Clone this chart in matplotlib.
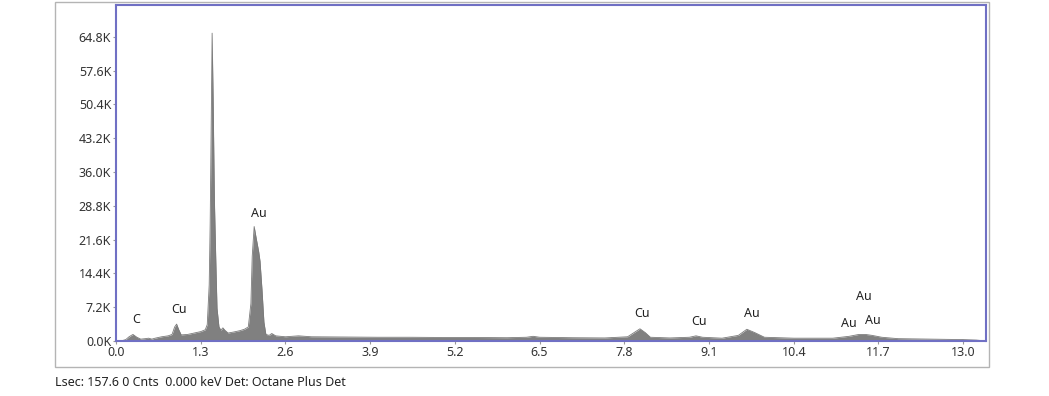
import matplotlib
matplotlib.use("Agg")
import matplotlib.pyplot as plt
from matplotlib.patches import Rectangle
from matplotlib.ticker import FuncFormatter

# ---- data (energy in keV, counts in K) ----
energy_kev = [0.00, 0.10, 0.15, 0.20, 0.26, 0.32, 0.38, 0.45, 0.50, 0.55, 0.60,
              0.70, 0.80, 0.86, 0.90, 0.93, 0.96, 1.00, 1.10, 1.20, 1.30, 1.37,
              1.40, 1.43, 1.445, 1.46, 1.475, 1.49, 1.51, 1.53, 1.55, 1.58,
              1.61, 1.64, 1.67, 1.72, 1.80, 1.90, 1.97, 2.03, 2.07, 2.09, 2.12,
              2.15, 2.19, 2.21, 2.24, 2.27, 2.30, 2.35, 2.39, 2.45, 2.60, 2.80,
              3.00, 3.50, 4.00, 4.50, 5.00, 5.50, 6.00, 6.30, 6.40, 6.50, 7.00,
              7.50, 7.85, 7.95, 8.04, 8.12, 8.20, 8.50, 8.80, 8.90, 9.00, 9.30,
              9.55, 9.68, 9.80, 9.95, 10.40, 11.00, 11.25, 11.40, 11.50, 11.60,
              11.75, 12.00, 12.50, 13.00, 13.20, 13.35]
counts_k = [0.0, 0.1, 0.3, 0.9, 1.4, 0.8, 0.4, 0.5, 0.6, 0.4, 0.6,
            0.9, 1.1, 1.4, 3.0, 3.6, 2.5, 1.3, 1.4, 1.7, 2.0, 2.4,
            3.5, 12.0, 25.0, 45.0, 65.6, 52.0, 30.0, 18.0, 7.0, 3.0,
            2.3, 2.8, 2.3, 1.7, 1.9, 2.2, 2.5, 3.0, 8.0, 18.0, 24.4,
            22.0, 19.0, 17.0, 11.0, 4.0, 1.4, 1.2, 1.6, 1.1, 0.9, 1.1,
            0.9, 0.85, 0.8, 0.8, 0.75, 0.75, 0.7, 0.8, 1.0, 0.8, 0.7,
            0.65, 0.9, 1.8, 2.6, 1.8, 0.8, 0.65, 0.8, 1.1, 0.8, 0.6,
            1.2, 2.5, 1.8, 0.8, 0.6, 0.6, 1.0, 1.4, 1.4, 1.2,
            0.8, 0.5, 0.4, 0.3, 0.2, 0.0]

x_ticks = [0.0, 1.3, 2.6, 3.9, 5.2, 6.5, 7.8, 9.1, 10.4, 11.7, 13.0]
y_ticks_k = [0.0, 7.2, 14.4, 21.6, 28.8, 36.0, 43.2, 50.4, 57.6, 64.8]

peak_labels = ["C", "Cu", "Au", "Cu", "Cu", "Au", "Au", "Au", "Au"]
label_energy = [0.31, 0.97, 2.19, 8.07, 8.95, 9.75, 11.48, 11.24, 11.62]
label_height_k = [4.5, 6.8, 27.1, 5.8, 4.1, 5.8, 9.4, 3.8, 4.3]

footer_text = "Lsec: 157.6 0 Cnts  0.000 keV Det: Octane Plus Det"

# ---- figure ----
plt.rcParams['font.family'] = ['Noto Sans', 'DejaVu Sans']
W, H = 1049, 396
fig = plt.figure(figsize=(W / 100, H / 100), dpi=100)

# outer grey frame
fig.patches.append(Rectangle((55 / W, 1 - 367 / H), (989 - 55) / W, (367 - 2) / H,
                             transform=fig.transFigure, fill=False,
                             edgecolor='#b4b4b4', linewidth=1.0))

ax = fig.add_axes([116 / W, 1 - 341 / H, (986 - 116) / W, (341 - 5) / H])
ax.fill_between(energy_kev, counts_k, 0, color='#808080', linewidth=0)
ax.plot(energy_kev, counts_k, color='#7a7a7a', linewidth=0.6)

ax.set_xlim(0, 13.35)
ax.set_ylim(0, 71.6)
ax.set_xticks(x_ticks)
ax.set_xticklabels([f"{v:.1f}" for v in x_ticks])
ax.set_yticks(y_ticks_k)
ax.yaxis.set_major_formatter(FuncFormatter(lambda v, p: f"{v:.1f}K"))
ax.tick_params(axis='both', labelsize=9, colors='#333333', length=2.5,
               width=0.8, pad=1.0)
ax.tick_params(axis='both', color='#999999')
for s in ax.spines.values():
    s.set_color('#7070c4')
    s.set_linewidth(1.5)

for lab, e, h in zip(peak_labels, label_energy, label_height_k):
    ax.text(e, h, lab, ha='center', va='center', fontsize=9, color='#222222')

fig.text(55 / W, 1 - 383 / H, footer_text, ha='left', va='center',
         fontsize=9, color='#222222')

fig.savefig("out.png", dpi=100)
